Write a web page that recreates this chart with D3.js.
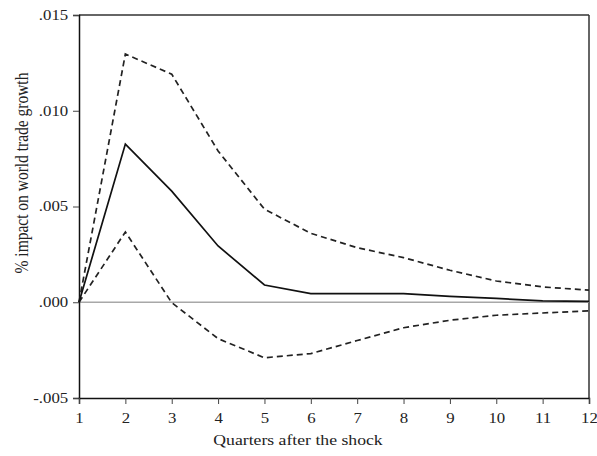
<!DOCTYPE html>
<html>
<head>
<meta charset="utf-8">
<script src="https://cdn.jsdelivr.net/npm/d3@7"></script>
<style>
  html, body { margin: 0; padding: 0; background: #fff; }
  svg { display: block; }
  text { font-family: "Liberation Serif", "Times New Roman", serif; fill: #222; }
</style>
</head>
<body>
<div id="chart"></div>
<script>
// Data
const quarters = [1, 2, 3, 4, 5, 6, 7, 8, 9, 10, 11, 12];
const response = [0.0000, 0.00826, 0.0058, 0.00294, 0.0009, 0.00045, 0.00045, 0.00045, 0.00031, 0.0002, 0.00007, 0.00005];
const upperBand = [0.0000, 0.01296, 0.01191, 0.0079, 0.00486, 0.0036, 0.00285, 0.00233, 0.00167, 0.00111, 0.0008, 0.00063];
const lowerBand = [0.0000, 0.00367, -0.00002, -0.0019, -0.0029, -0.00268, -0.002, -0.00133, -0.00094, -0.00068, -0.00056, -0.00045];
const yTickValues = [-0.005, 0.000, 0.005, 0.010, 0.015];
const yTickLabels = ["-.005", ".000", ".005", ".010", ".015"];
const xTickLabels = ["1","2","3","4","5","6","7","8","9","10","11","12"];
const xTitle = "Quarters after the shock";
const yTitle = "% impact on world trade growth";

const W = 597, H = 456;
const margin = { left: 79, right: 8, top: 15, bottom: 58 };
const iw = W - margin.left - margin.right;
const ih = H - margin.top - margin.bottom;
const stretch = 1.2;

const svg = d3.select("#chart").append("svg").attr("width", W).attr("height", H);
const g = svg.append("g").attr("transform", `translate(${margin.left},${margin.top})`);

const x = d3.scaleLinear().domain([1, 12]).range([0, iw]);
const y = d3.scaleLinear().domain([-0.005, 0.015]).range([ih, 0]);

// frame top / right
g.append("line").attr("x1", 0).attr("x2", iw).attr("y1", 0).attr("y2", 0)
  .attr("stroke", "#333").attr("stroke-width", 1.5);
g.append("line").attr("x1", iw).attr("x2", iw).attr("y1", 0).attr("y2", ih)
  .attr("stroke", "#333").attr("stroke-width", 1.5);

// zero line
g.append("line").attr("x1", 0).attr("x2", iw).attr("y1", y(0)).attr("y2", y(0))
  .attr("stroke", "#a8a8a8").attr("stroke-width", 1.5);

// axes
const yAxis = d3.axisLeft(y).tickValues(yTickValues)
  .tickFormat((d, i) => yTickLabels[i]).tickSize(6).tickPadding(3);
const xAxis = d3.axisBottom(x).tickValues(quarters)
  .tickFormat((d, i) => xTickLabels[i]).tickSize(6).tickPadding(9);

const ya = g.append("g").call(yAxis);
const xa = g.append("g").attr("transform", `translate(0,${ih})`).call(xAxis);
[ya, xa].forEach(a => {
  a.select(".domain").attr("stroke", "#111").attr("stroke-width", 1.5);
  a.selectAll(".tick line").attr("stroke", "#444");
  a.selectAll(".tick text").style("font-family", '"Liberation Serif", serif')
    .style("font-size", "14px").attr("fill", "#222")
    .attr("transform", `scale(${stretch},1)`);
});

const line = d3.line().x((d, i) => x(quarters[i])).y(d => y(d));

g.append("path").datum(upperBand).attr("d", line).attr("fill", "none")
  .attr("stroke", "#222").attr("stroke-width", 1.7).attr("stroke-dasharray", "6,4");
g.append("path").datum(lowerBand).attr("d", line).attr("fill", "none")
  .attr("stroke", "#222").attr("stroke-width", 1.7).attr("stroke-dasharray", "6,4");
g.append("path").datum(response).attr("d", line).attr("fill", "none")
  .attr("stroke", "#111").attr("stroke-width", 1.7);

// titles
svg.append("text").attr("transform", `translate(298,445) scale(1.18,1)`)
  .attr("text-anchor", "middle").style("font-size", "15px").text(xTitle);
svg.append("text").attr("transform", `translate(28,173) rotate(-90) scale(1,1.18)`)
  .attr("text-anchor", "middle").style("font-size", "15.5px").text(yTitle);
</script>
</body>
</html>
